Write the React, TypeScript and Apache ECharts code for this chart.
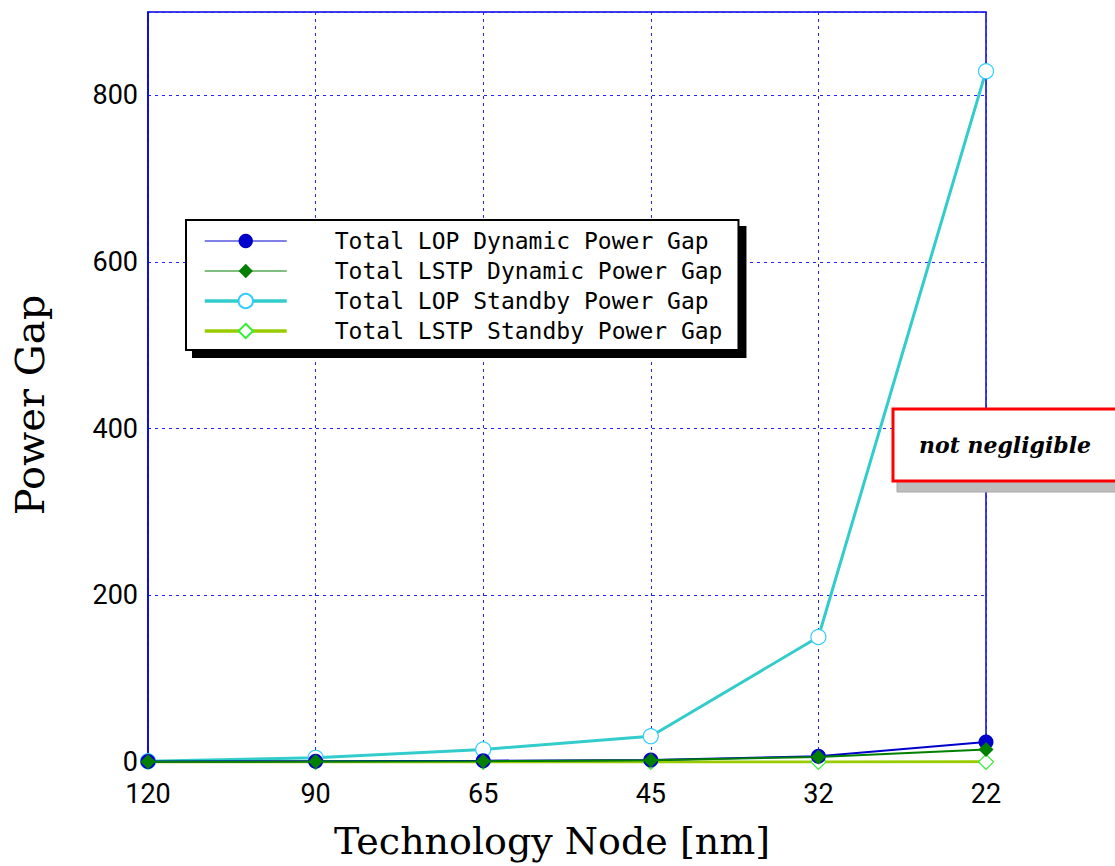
import React, { useEffect, useRef } from "react";
import * as echarts from "echarts";

const nodes = ["120", "90", "65", "45", "32", "22"];
const lopDynamic = [0.5, 1, 1.5, 2.5, 7, 24];
const lstpDynamic = [0.3, 0.5, 1, 2, 6, 15];
const lopStandby = [1, 5, 15, 31, 150, 829];
const lstpStandby = [0, 0, 0, 0, 0, 0.2];
const seriesNames = [
  "Total LOP Dynamic Power Gap",
  "Total LSTP Dynamic Power Gap",
  "Total LOP Standby Power Gap",
  "Total LSTP Standby Power Gap",
];
const yTickInterval = 200;
const yMax = 900;

export default function App() {
  const ref = useRef<HTMLDivElement>(null);
  useEffect(() => {
    if (!ref.current) return;
    const chart = echarts.init(ref.current, null, { renderer: "svg" });
    const tickFont = "'Liberation Sans Narrow', 'Roboto', sans-serif";
    const legendWidths = [1, 1, 3.5, 3.5];
    chart.setOption({
      animation: false,
      backgroundColor: "#ffffff",
      grid: {
        left: 148,
        right: 129,
        top: 12,
        bottom: 104,
        outerBoundsMode: "none",
        containLabel: false,
        show: true,
        borderColor: "#0000dd",
        borderWidth: 1.5,
        backgroundColor: "transparent",
      },
      legend: {
        orient: "vertical",
        left: 186,
        top: 220,
        data: seriesNames.map((n, i) => ({
          name: n,
          lineStyle: { width: legendWidths[i] },
        })),
        backgroundColor: "#ffffff",
        borderColor: "#000000",
        borderWidth: 2,
        shadowColor: "#000000",
        shadowOffsetX: 7,
        shadowOffsetY: 7,
        shadowBlur: 0,
        padding: [6, 16, 4, 17],
        itemWidth: 82,
        itemHeight: 18,
        itemGap: 0,
        selectedMode: false,
        textStyle: {
          fontFamily: "'DejaVu Sans Mono', 'Liberation Mono', monospace",
          fontSize: 23,
          lineHeight: 30,
          color: "#000",
          padding: [0, 0, 0, 43],
        },
      },
      xAxis: {
        type: "category",
        data: nodes,
        boundaryGap: false,
        axisLine: { show: true, lineStyle: { color: "#0000dd", width: 1.5 } },
        axisTick: { show: false },
        axisLabel: {
          fontFamily: tickFont,
          fontSize: 27,
          color: "#000",
          margin: 18,
        },
        splitLine: {
          show: true,
          lineStyle: { color: "#2222ff", type: [3, 4], width: 1 },
        },
        name: "Technology Node [nm]",
        nameLocation: "middle",
        nameGap: 60,
        nameTextStyle: {
          fontFamily: "'DejaVu Serif', serif",
          fontSize: 38,
          color: "#000",
          padding: [0, 30, 0, 0],
        },
      },
      yAxis: {
        type: "value",
        min: 0,
        max: yMax,
        interval: yTickInterval,
        axisLine: { show: true, lineStyle: { color: "#0000dd", width: 1.5 } },
        axisTick: { show: false },
        axisLabel: {
          fontFamily: tickFont,
          fontSize: 27,
          color: "#000",
          margin: 10,
          showMaxLabel: false,
        },
        splitLine: {
          show: true,
          lineStyle: { color: "#2222ff", type: [3, 4], width: 1 },
        },
        name: "Power Gap",
        nameLocation: "middle",
        nameGap: 98,
        nameTextStyle: {
          fontFamily: "'DejaVu Serif', serif",
          fontSize: 40,
          color: "#000",
          padding: [0, 36, 0, 0],
        },
      },
      series: [
        {
          name: seriesNames[0],
          type: "line",
          data: lopDynamic,
          symbol: "circle",
          symbolSize: 15,
          z: 4,
          itemStyle: { color: "#0000cc" },
          lineStyle: { color: "#0000cc", width: 2 },
        },
        {
          name: seriesNames[1],
          type: "line",
          data: lstpDynamic,
          symbol: "diamond",
          symbolSize: 15,
          z: 5,
          itemStyle: { color: "#007f00" },
          lineStyle: { color: "#007f00", width: 2 },
        },
        {
          name: seriesNames[2],
          type: "line",
          data: lopStandby,
          symbol: "circle",
          symbolSize: 15,
          z: 3,
          itemStyle: { color: "#ffffff", borderColor: "#33ccff", borderWidth: 1.2 },
          lineStyle: { color: "#33cccc", width: 3 },
        },
        {
          name: seriesNames[3],
          type: "line",
          data: lstpStandby,
          symbol: "diamond",
          symbolSize: 15,
          z: 2,
          itemStyle: { color: "#ffffff", borderColor: "#33ee33", borderWidth: 1.2 },
          lineStyle: { color: "#99cc00", width: 3 },
        },
      ],
      graphic: [
        {
          type: "rect",
          z: 100,
          shape: { x: 897, y: 418, width: 240, height: 74 },
          style: { fill: "#bdbdbd", stroke: "#a8a8a8", lineWidth: 1 },
        },
        {
          type: "rect",
          z: 101,
          shape: { x: 893, y: 409, width: 240, height: 72 },
          style: { fill: "#ffffff", stroke: "#ff0000", lineWidth: 3 },
        },
        {
          type: "text",
          z: 102,
          x: 1005,
          y: 445,
          style: {
            text: "not negligible",
            fontFamily: "'DejaVu Serif', serif",
            fontStyle: "italic",
            fontWeight: "bold",
            fontSize: 22,
            fill: "#000",
            align: "center",
            verticalAlign: "middle",
          },
        },
      ],
    });
    return () => chart.dispose();
  }, []);
  return (
    <div
      ref={ref}
      style={{ position: "fixed", left: 0, top: 0, width: 1115, height: 866 }}
    />
  );
}
